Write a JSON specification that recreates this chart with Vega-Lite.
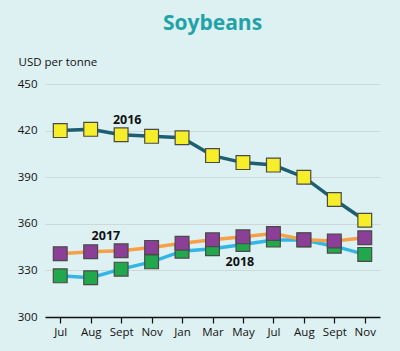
{
  "$schema": "https://vega.github.io/schema/vega-lite/v6.json",
  "width": 335,
  "height": 233,
  "autosize": "none",
  "padding": {"left": 45, "top": 84, "right": 20, "bottom": 34},
  "background": "#ddf0f2",
  "title": {"text": "Soybeans", "color": "#1fa3a8", "fontSize": 21, "font": "Open Sans", "fontWeight": "bold", "anchor": "middle", "offset": 22},
  "config": {"view": {"stroke": null}, "font": "Open Sans"},
  "datasets": {
    "prices": [
      {"i": 0, "year": "2018", "v": 326.5}, {"i": 1, "year": "2018", "v": 325.3}, {"i": 2, "year": "2018", "v": 330.8}, {"i": 3, "year": "2018", "v": 335.5}, {"i": 4, "year": "2018", "v": 342.4}, {"i": 5, "year": "2018", "v": 343.9}, {"i": 6, "year": "2018", "v": 346.7}, {"i": 7, "year": "2018", "v": 349.5}, {"i": 8, "year": "2018", "v": 349.5}, {"i": 9, "year": "2018", "v": 345.6}, {"i": 10, "year": "2018", "v": 340.3},
      {"i": 0, "year": "2017", "v": 340.7}, {"i": 1, "year": "2017", "v": 342.0}, {"i": 2, "year": "2017", "v": 342.6}, {"i": 3, "year": "2017", "v": 344.8}, {"i": 4, "year": "2017", "v": 347.5}, {"i": 5, "year": "2017", "v": 349.7}, {"i": 6, "year": "2017", "v": 351.6}, {"i": 7, "year": "2017", "v": 353.8}, {"i": 8, "year": "2017", "v": 349.7}, {"i": 9, "year": "2017", "v": 349.0}, {"i": 10, "year": "2017", "v": 351.0},
      {"i": 0, "year": "2016", "v": 420.0}, {"i": 1, "year": "2016", "v": 420.8}, {"i": 2, "year": "2016", "v": 417.3}, {"i": 3, "year": "2016", "v": 416.3}, {"i": 4, "year": "2016", "v": 415.4}, {"i": 5, "year": "2016", "v": 403.9}, {"i": 6, "year": "2016", "v": 399.4}, {"i": 7, "year": "2016", "v": 397.8}, {"i": 8, "year": "2016", "v": 390.0}, {"i": 9, "year": "2016", "v": 375.6}, {"i": 10, "year": "2016", "v": 362.3}
    ],
    "labels": [
      {"i": 2.2, "v": 427, "t": "2016"},
      {"i": 1.5, "v": 352, "t": "2017"},
      {"i": 5.9, "v": 335.5, "t": "2018"}
    ]
  },
  "encoding": {
    "x": {"field": "i", "type": "quantitative", "scale": {"domain": [-0.5, 10.5], "nice": false, "zero": false},
      "axis": {"title": null, "values": [0,1,2,3,4,5,6,7,8,9,10], "labelAngle": 0, "labelExpr": "['Jul','Aug','Sept','Nov','Jan','Mar','May','Jul','Aug','Sept','Nov'][datum.value]", "domainColor": "#111111", "domainWidth": 1.5, "tickColor": "#111111", "tickSize": 6, "tickWidth": 1.2, "labelColor": "#111111", "labelFontSize": 11.5, "labelPadding": 3, "grid": false, "labelFlush": false, "labelOverlap": false}},
    "y": {"field": "v", "type": "quantitative", "scale": {"domain": [300, 450], "nice": false, "zero": false},
      "axis": {"values": [300, 330, 360, 390, 420, 450], "title": "USD per tonne", "titleAngle": 0, "titleAlign": "left", "titleBaseline": "middle", "titleX": -27, "titleY": -22, "titleFontWeight": "normal", "titleFontSize": 11.5, "titleColor": "#111111", "domain": false, "ticks": false, "labelColor": "#111111", "labelFontSize": 11.5, "labelPadding": 8, "gridColor": "#cfd8d9", "gridWidth": 1}}
  },
  "layer": [
    {
      "data": {"name": "prices"},
      "mark": {"type": "line", "strokeWidth": 3.5},
      "encoding": {
        "color": {"field": "year", "type": "nominal", "legend": null, "scale": {"domain": ["2016", "2017", "2018"], "range": ["#1d5f72", "#f6a04a", "#33b6e6"]}},
        "detail": {"field": "year"}
      }
    },
    {
      "data": {"name": "prices"},
      "mark": {"type": "square", "size": 190, "opacity": 1, "stroke": "#4a4a4a", "strokeWidth": 1.2},
      "encoding": {
        "fill": {"field": "year", "type": "nominal", "legend": null, "scale": {"domain": ["2016", "2017", "2018"], "range": ["#f7ee2a", "#8c3f96", "#22a84c"]}}
      }
    },
    {
      "data": {"name": "labels"},
      "mark": {"type": "text", "fontWeight": "bold", "fontSize": 12.5, "color": "#111111"},
      "encoding": {
        "text": {"field": "t"}
      }
    }
  ]
}
